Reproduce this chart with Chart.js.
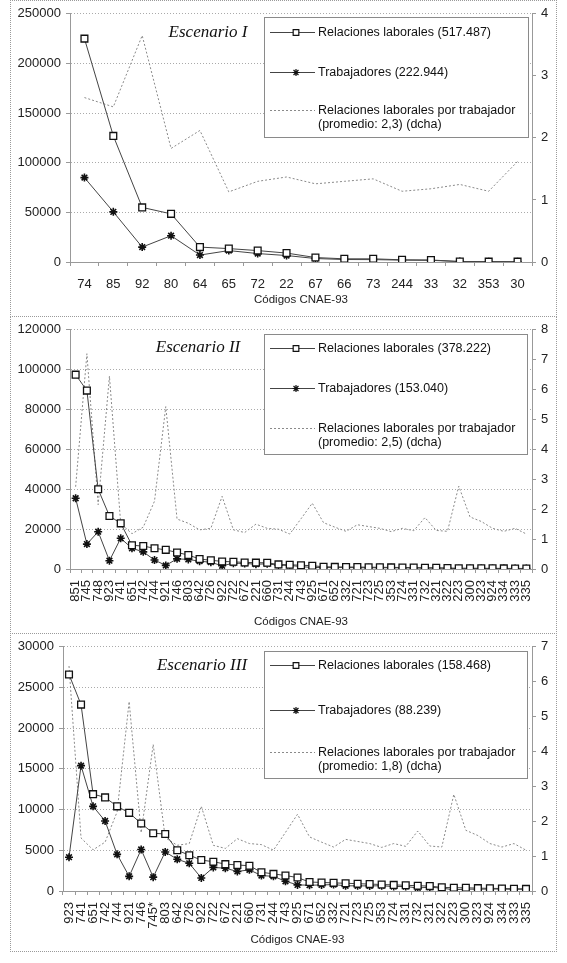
<!DOCTYPE html>
<html lang="es">
<head>
<meta charset="utf-8">
<script src="https://cdn.jsdelivr.net/npm/chart.js@4.4.1/dist/chart.umd.min.js"></script>
<style>
  html, body { margin: 0; padding: 0; background: #fff; }
  body { width: 567px; height: 963px; position: relative; overflow: hidden; }
  .panel { position: absolute; left: 10px; width: 545px; border: 1px dotted #9a9a9a; }
  .panel canvas { display: block; }
</style>
</head>
<body>
<div class="panel" style="top:0;height:315px"><canvas id="g1" width="545" height="315"></canvas></div>
<div class="panel" style="top:316px;height:316px"><canvas id="g2" width="545" height="316"></canvas></div>
<div class="panel" style="top:633px;height:317px"><canvas id="g3" width="545" height="317"></canvas></div>
<script>
// ---------- DATOS: Escenario I ----------
const codigos1 = ["74", "85", "92", "80", "64", "65", "72", "22", "67", "66", "73", "244", "33", "32", "353", "30"];
const relaciones1 = [225000, 127000, 55000, 48500, 15000, 13500, 11500, 9000, 4500, 3200, 3200, 2200, 2000, 500, 350, 350];
const trabajadores1 = [85000, 50500, 15000, 26500, 7000, 11500, 8500, 6500, 3500, 2500, 2400, 1900, 1700, 400, 300, 220];
const ratio1 = [2.65, 2.5, 3.65, 1.83, 2.12, 1.13, 1.3, 1.37, 1.26, 1.3, 1.34, 1.14, 1.18, 1.25, 1.14, 1.62];
const leyenda1 = ["Relaciones laborales (517.487)", "Trabajadores (222.944)", "Relaciones laborales por trabajador", "(promedio: 2,3) (dcha)"];

// ---------- DATOS: Escenario II ----------
const codigos2 = ["851", "745", "748", "923", "741", "651", "742", "744", "921", "746", "803", "642", "726", "922", "722", "672", "221", "660", "731", "244", "743", "925", "671", "652", "332", "721", "723", "725", "353", "724", "331", "732", "321", "322", "223", "300", "323", "924", "334", "333", "335"];
const relaciones2 = [97500, 89500, 40000, 26600, 22900, 11900, 11500, 10400, 9600, 8300, 7000, 5000, 4400, 3800, 3600, 3300, 3200, 3100, 2300, 2100, 1900, 1650, 1100, 1050, 1000, 950, 900, 850, 800, 750, 700, 650, 600, 450, 400, 400, 350, 330, 300, 280, 260];
const trabajadores2 = [35500, 12500, 18700, 4150, 15400, 10400, 8600, 4500, 1800, 5100, 4800, 3900, 3400, 1600, 2900, 2800, 2400, 2600, 1900, 1800, 1200, 750, 710, 740, 790, 640, 630, 625, 640, 550, 545, 380, 465, 360, 145, 230, 220, 245, 240, 205, 220];
const ratio2 = [2.75, 7.2, 2.15, 6.45, 1.52, 1.18, 1.4, 2.27, 5.43, 1.67, 1.53, 1.31, 1.36, 2.43, 1.31, 1.22, 1.5, 1.36, 1.33, 1.17, 1.68, 2.2, 1.55, 1.4, 1.26, 1.48, 1.42, 1.36, 1.25, 1.36, 1.28, 1.72, 1.29, 1.26, 2.77, 1.74, 1.59, 1.36, 1.26, 1.36, 1.17];
const leyenda2 = ["Relaciones laborales (378.222)", "Trabajadores (153.040)", "Relaciones laborales por trabajador", "(promedio: 2,5) (dcha)"];

// ---------- DATOS: Escenario III ----------
const codigos3 = ["923", "741", "651", "742", "744", "921", "746", "745*", "803", "642", "726", "922", "722", "672", "221", "660", "731", "244", "743", "925", "671", "652", "332", "721", "723", "725", "353", "724", "331", "732", "321", "322", "223", "300", "323", "924", "334", "333", "335"];
const relaciones3 = [26600, 22900, 11900, 11500, 10400, 9600, 8300, 7100, 7000, 5000, 4400, 3800, 3600, 3300, 3200, 3100, 2300, 2100, 1900, 1650, 1100, 1050, 1000, 950, 900, 850, 800, 750, 700, 650, 600, 450, 400, 400, 350, 330, 300, 280, 260];
const trabajadores3 = [4150, 15400, 10400, 8600, 4500, 1800, 5100, 1700, 4800, 3900, 3400, 1600, 2900, 2800, 2400, 2600, 1900, 1800, 1200, 750, 710, 740, 790, 640, 630, 625, 640, 550, 545, 380, 465, 360, 145, 230, 220, 245, 240, 205, 220];
const ratio3 = [6.45, 1.52, 1.18, 1.4, 2.27, 5.43, 1.67, 4.2, 1.53, 1.31, 1.36, 2.43, 1.31, 1.22, 1.5, 1.36, 1.33, 1.17, 1.68, 2.2, 1.55, 1.4, 1.26, 1.48, 1.42, 1.36, 1.25, 1.36, 1.28, 1.72, 1.29, 1.26, 2.77, 1.74, 1.59, 1.36, 1.26, 1.36, 1.17];
const leyenda3 = ["Relaciones laborales (158.468)", "Trabajadores (88.239)", "Relaciones laborales por trabajador", "(promedio: 1,8) (dcha)"];

const fuente = '"Liberation Sans", Arial, sans-serif';

// Leyenda y título dentro del área del gráfico (estilo Excel)
const leyendaInterna = {
  id: "leyendaInterna",
  afterDraw(chart, args, o) {
    const ctx = chart.ctx;
    ctx.save();
    ctx.font = 'italic 17px "Liberation Serif", "Times New Roman", serif';
    ctx.fillStyle = "#111";
    ctx.textAlign = "center";
    ctx.textBaseline = "middle";
    ctx.fillText(o.titulo, o.tx, o.ty);

    ctx.fillStyle = "#fff";
    ctx.fillRect(o.x, o.y, o.w, o.h);
    ctx.strokeStyle = "#8a8a8a";
    ctx.lineWidth = 1;
    ctx.strokeRect(o.x + 0.5, o.y + 0.5, o.w, o.h);

    ctx.font = "12.5px " + fuente;
    ctx.textAlign = "left";
    chart.data.datasets.forEach((ds, i) => {
      const fy = o.y + o.filas[i] + 0.5;
      ctx.strokeStyle = ds.borderColor;
      ctx.lineWidth = 1;
      ctx.setLineDash(ds.borderDash || []);
      ctx.beginPath();
      ctx.moveTo(o.x + 6, fy);
      ctx.lineTo(o.x + 51, fy);
      ctx.stroke();
      ctx.setLineDash([]);
      if (ds.pointRadius > 0) {
        ctx.fillStyle = ds.pointBackgroundColor || "#fff";
        ctx.strokeStyle = ds.pointBorderColor;
        ctx.lineWidth = 1.2;
        Chart.helpers.drawPoint(ctx, { pointStyle: ds.pointStyle, radius: ds.pointStyle === "rect" ? 4 : 3.5, borderWidth: 1.2, rotation: 0 }, o.x + 32, fy);
      }
      ctx.fillStyle = "#111";
      const lineas = Array.isArray(ds.label) ? ds.label : [ds.label];
      lineas.forEach((t, k) => ctx.fillText(t, o.x + 54, fy + k * 14));
    });
    ctx.restore();
  }
};

function crearGrafico(idCanvas, codigos, relaciones, trabajadores, ratio, leyenda, p) {
  const fuenteTicks = { family: fuente, size: 13 };
  return new Chart(document.getElementById(idCanvas), {
    type: "line",
    data: {
      labels: codigos,
      datasets: [
        {
          label: leyenda[0], data: relaciones, yAxisID: "y",
          borderColor: "#444", borderWidth: 1, tension: 0,
          pointStyle: "rect", pointRadius: 4.8, pointBackgroundColor: "#fff",
          pointBorderColor: "#111", pointBorderWidth: 1.3
        },
        {
          label: leyenda[1], data: trabajadores, yAxisID: "y",
          borderColor: "#444", borderWidth: 1, tension: 0,
          pointStyle: "star", pointRadius: 4, pointBorderColor: "#111", pointBorderWidth: 1.6
        },
        {
          label: [leyenda[2], leyenda[3]], data: ratio, yAxisID: "y1",
          borderColor: "#8a8a8a", borderWidth: 1, borderDash: [2, 2], tension: 0, pointRadius: 0
        }
      ]
    },
    options: {
      responsive: false,
      animation: false,
      devicePixelRatio: 1,
      layout: { padding: { top: p.arriba, left: 0, right: 0, bottom: 0 } },
      plugins: {
        legend: { display: false },
        tooltip: { enabled: false },
        leyendaInterna: p.caja
      },
      scales: {
        x: {
          offset: true,
          grid: { display: true, drawOnChartArea: false, offset: true, tickLength: 4, color: "#999" },
          border: { color: "#999" },
          ticks: {
            autoSkip: false, minRotation: p.giro, maxRotation: p.giro,
            padding: p.padX, color: "#222", font: fuenteTicks
          },
          title: {
            display: true, text: "Códigos CNAE-93", color: "#222",
            font: { family: fuente, size: 11.5 }, padding: { top: 0, bottom: p.padTitulo }
          },
          afterFit: s => { s.height = p.altoX; }
        },
        y: {
          position: "left", min: 0, max: p.maxIzq,
          ticks: { stepSize: p.pasoIzq, padding: 5, color: "#222", font: fuenteTicks, callback: v => String(v) },
          grid: { color: "#aaa", tickLength: 4, tickColor: "#999" },
          border: { color: "#999", dash: [1, 2] },
          afterFit: s => { s.width = p.anchoIzq; }
        },
        y1: {
          position: "right", min: 0, max: p.maxDer,
          ticks: { stepSize: 1, padding: 5, color: "#222", font: fuenteTicks, callback: v => String(v) },
          grid: { drawOnChartArea: false, tickLength: 4, color: "#999" },
          border: { color: "#999" },
          afterFit: s => { s.width = 24; }
        }
      }
    },
    plugins: [leyendaInterna]
  });
}

crearGrafico("g1", codigos1, relaciones1, trabajadores1, ratio1, leyenda1, {
  arriba: 9, altoX: 54, anchoIzq: 59, giro: 0, padX: 11, padTitulo: 9,
  maxIzq: 250000, pasoIzq: 50000, maxDer: 4,
  caja: { titulo: "Escenario I", tx: 197, ty: 32, x: 253, y: 16, w: 264, h: 120, filas: [15, 55, 93] }
});

crearGrafico("g2", codigos2, relaciones2, trabajadores2, ratio2, leyenda2, {
  arriba: 10, altoX: 64, anchoIzq: 59, giro: 90, padX: 7, padTitulo: 4,
  maxIzq: 120000, pasoIzq: 20000, maxDer: 8,
  caja: { titulo: "Escenario II", tx: 187, ty: 31, x: 253, y: 17, w: 263, h: 120, filas: [14, 54, 94] }
});

crearGrafico("g3", codigos3, relaciones3, trabajadores3, ratio3, leyenda3, {
  arriba: 11, altoX: 60, anchoIzq: 52, giro: 90, padX: 7, padTitulo: 4,
  maxIzq: 30000, pasoIzq: 5000, maxDer: 7,
  caja: { titulo: "Escenario III", tx: 191, ty: 32, x: 253, y: 17, w: 263, h: 127, filas: [14, 59, 101] }
});
</script>
</body>
</html>
